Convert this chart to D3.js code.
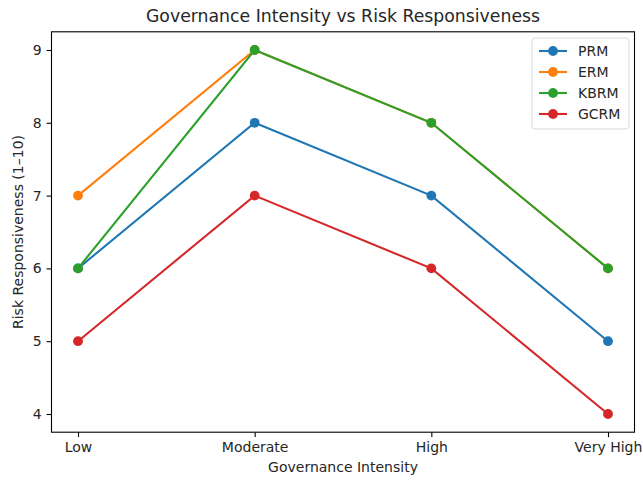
<!DOCTYPE html>
<html><head><meta charset="utf-8">
<script src="https://cdn.jsdelivr.net/npm/d3@7"></script>
<style>body{margin:0;background:#fff}text{font-family:"DejaVu Sans",sans-serif;fill:#262626}</style>
</head><body><svg id="c" width="643" height="481"></svg>
<script>
const categories = ["Low", "Moderate", "High", "Very High"];
const seriesNames = ["PRM", "ERM", "KBRM", "GCRM"];
const PRM = [6, 8, 7, 5];
const ERM = [7, 9, 8, 6];
const KBRM = [6, 9, 8, 6];
const GCRM = [5, 7, 6, 4];
const yTicks = [4, 5, 6, 7, 8, 9];
const colors = ["#1f77b4", "#ff7f0e", "#2ca02c", "#d62728"];
const seriesValues = [PRM, ERM, KBRM, GCRM];

const svg = d3.select("#c");
const L = 51.5, R = 634.5, T = 31.8, B = 432.2;
const x = d3.scaleLinear().domain([-0.15, 3.15]).range([L, R]);
const y = d3.scaleLinear().domain([3.75, 9.25]).range([B, T]);

const xAxis = svg.append("g").attr("transform", `translate(0,${B})`)
  .call(d3.axisBottom(x).tickValues([0,1,2,3]).tickFormat(i => categories[i]).tickSize(4.9).tickPadding(4.9));
const yAxis = svg.append("g").attr("transform", `translate(${L},0)`)
  .call(d3.axisLeft(y).tickValues(yTicks).tickFormat(d3.format("d")).tickSize(4.9).tickPadding(4.9));
[xAxis, yAxis].forEach(a => {
  a.select(".domain").remove();
  a.selectAll(".tick line").attr("stroke", "#000").attr("stroke-width", 1.1);
  a.selectAll(".tick text").style("font-size", "14px").attr("fill", "#262626");
});
svg.append("rect").attr("x", L).attr("y", T).attr("width", R - L).attr("height", B - T)
  .attr("fill", "none").attr("stroke", "#000").attr("stroke-width", 1.1);

const line = d3.line().x((d, i) => x(i)).y(d => y(d));
seriesValues.forEach((vals, s) => {
  const g = svg.append("g");
  g.append("path").datum(vals).attr("d", line).attr("fill", "none")
    .attr("stroke", colors[s]).attr("stroke-width", 2.08);
  g.selectAll("circle").data(vals).join("circle")
    .attr("cx", (d, i) => x(i)).attr("cy", d => y(d)).attr("r", 4.9).attr("fill", colors[s]);
});

svg.append("text").attr("x", (L + R) / 2).attr("y", 22).attr("text-anchor", "middle")
  .style("font-size", "17.3px").text("Governance Intensity vs Risk Responsiveness");
svg.append("text").attr("x", (L + R) / 2).attr("y", 472).attr("text-anchor", "middle")
  .style("font-size", "14px").text("Governance Intensity");
svg.append("text").attr("transform", `translate(23,${(T + B) / 2}) rotate(-90)`).attr("text-anchor", "middle")
  .style("font-size", "14px").text("Risk Responsiveness (1–10)");

// legend
const lg = svg.append("g").attr("transform", "translate(532,38)");
lg.append("rect").attr("x", 0).attr("y", 0).attr("width", 97).attr("height", 91).attr("rx", 3)
  .attr("fill", "#fff").attr("fill-opacity", 0.8).attr("stroke", "#d9d9d9").attr("stroke-width", 1);
seriesNames.forEach((n, s) => {
  const yy = 13 + s * 21;
  lg.append("line").attr("x1", 7).attr("x2", 35).attr("y1", yy).attr("y2", yy)
    .attr("stroke", colors[s]).attr("stroke-width", 2.08);
  lg.append("circle").attr("cx", 21).attr("cy", yy).attr("r", 4.9).attr("fill", colors[s]);
  lg.append("text").attr("x", 46).attr("y", yy + 5).style("font-size", "14px").text(n);
});
</script></body></html>
